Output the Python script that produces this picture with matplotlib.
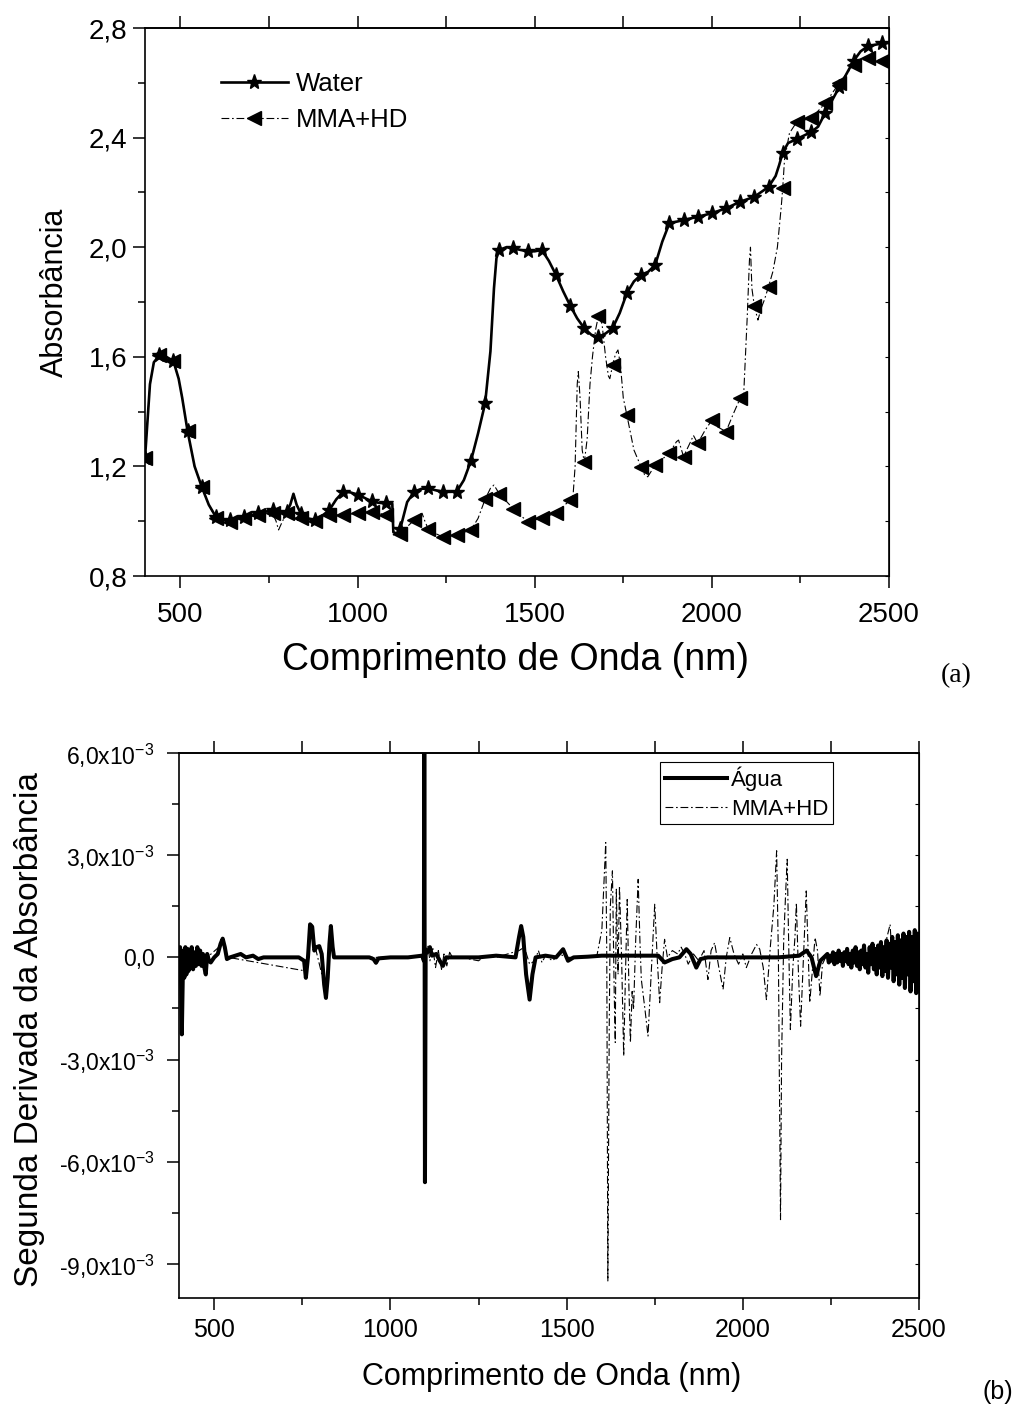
import matplotlib
matplotlib.use('Agg')
import matplotlib.pyplot as plt
import numpy as np
from matplotlib.ticker import MultipleLocator

plt.rcParams['font.family'] = ['Liberation Sans', 'DejaVu Sans']
plt.rcParams['mathtext.fontset'] = 'custom'
plt.rcParams['mathtext.rm'] = 'Liberation Sans'
plt.rcParams['mathtext.default'] = 'regular'

# ---- panel (a): absorbance spectra ----
wl_water = [400, 414, 425, 440, 460, 480, 495, 505, 520, 540, 560, 580, 600, 620, 640, 660,
            680, 700, 720, 740, 760, 780, 800, 810, 819, 828, 840, 860, 880, 900, 920, 940,
            960, 980, 1000, 1020, 1040, 1060, 1080, 1098, 1101, 1110, 1120, 1140, 1160, 1180,
            1200, 1220, 1240, 1260, 1280, 1300, 1320, 1340, 1360, 1375, 1385, 1392, 1400, 1420,
            1440, 1460, 1480, 1500, 1520, 1540, 1560, 1580, 1600, 1620, 1640, 1660, 1680, 1700,
            1720, 1740, 1760, 1780, 1800, 1820, 1840, 1860, 1880, 1920, 1960, 2000, 2040, 2080,
            2120, 2160, 2180, 2190, 2200, 2215, 2240, 2280, 2300, 2320, 2360, 2400, 2420, 2440,
            2480, 2500]
abs_water = [1.23, 1.50, 1.58, 1.605, 1.60, 1.585, 1.52, 1.45, 1.33, 1.20, 1.126, 1.06, 1.016, 1.005, 1.004, 1.01,
             1.016, 1.022, 1.029, 1.035, 1.04, 1.035, 1.035, 1.06, 1.10, 1.06, 1.027, 1.01, 1.004, 1.02, 1.04, 1.08,
             1.108, 1.105, 1.097, 1.085, 1.072, 1.067, 1.065, 1.064, 0.96, 0.955, 0.97, 1.07, 1.108, 1.118,
             1.12, 1.113, 1.108, 1.107, 1.108, 1.15, 1.22, 1.32, 1.43, 1.62, 1.85, 1.96, 1.99, 2.0,
             1.996, 1.99, 1.985, 1.985, 1.99, 1.95, 1.899, 1.84, 1.787, 1.74, 1.704, 1.68, 1.673, 1.685,
             1.705, 1.76, 1.832, 1.875, 1.899, 1.91, 1.935, 2.02, 2.087, 2.099, 2.111, 2.124, 2.142, 2.166,
             2.184, 2.22, 2.26, 2.30, 2.345, 2.38, 2.395, 2.42, 2.44, 2.49, 2.585, 2.68, 2.715, 2.733,
             2.744, 2.745]

wl_mma = [400, 414, 425, 440, 460, 480, 495, 505, 520, 540, 560, 580, 600, 620, 640, 660,
          680, 700, 720, 740, 760, 770, 777, 788, 800, 820, 840, 860, 880, 900, 920, 960,
          1000, 1040, 1080, 1098, 1101, 1120, 1140, 1160, 1172, 1182, 1190, 1200, 1220, 1240,
          1280, 1320, 1340, 1360, 1375, 1385, 1400, 1440, 1480, 1520, 1560, 1600, 1608, 1614,
          1620, 1623, 1628, 1634, 1640, 1648, 1656, 1663, 1672, 1680, 1690, 1700, 1708, 1712,
          1720, 1728, 1735, 1742, 1750, 1760, 1780, 1800, 1810, 1819, 1840, 1880, 1900, 1906,
          1920, 1940, 1948, 1960, 1980, 2000, 2015, 2040, 2060, 2080, 2090, 2100, 2106, 2109,
          2113, 2120, 2130, 2140, 2148, 2160, 2172, 2185, 2196, 2200, 2205, 2219, 2240, 2280,
          2320, 2360, 2400, 2440, 2480, 2500]
abs_mma = [1.23, 1.50, 1.58, 1.605, 1.60, 1.585, 1.52, 1.45, 1.33, 1.20, 1.126, 1.06, 1.011, 1.0, 0.998, 1.005,
           1.011, 1.018, 1.023, 1.03, 1.029, 1.0, 0.968, 1.0, 1.029, 1.02, 1.011, 1.005, 1.002, 1.012, 1.023, 1.023,
           1.029, 1.035, 1.023, 1.02, 0.95, 0.955, 0.98, 1.004, 1.02, 1.029, 1.0, 0.97, 0.955, 0.943,
           0.95, 0.968, 1.01, 1.08, 1.12, 1.132, 1.10, 1.045, 0.998, 1.011, 1.03, 1.077, 1.09, 1.2,
           1.5, 1.546, 1.45, 1.26, 1.215, 1.3, 1.5, 1.6, 1.7, 1.75, 1.72, 1.6, 1.53, 1.52,
           1.57, 1.61, 1.625, 1.57, 1.45, 1.388, 1.26, 1.199, 1.17, 1.162, 1.205, 1.248, 1.29, 1.296,
           1.236, 1.29, 1.313, 1.284, 1.33, 1.369, 1.345, 1.327, 1.39, 1.449, 1.467, 1.75, 1.95, 2.0,
           1.85, 1.785, 1.734, 1.78, 1.807, 1.856, 1.91, 2.0, 2.15, 2.215, 2.318, 2.416, 2.458, 2.47,
           2.525, 2.60, 2.665, 2.69, 2.68, 2.68]

# ---- panel (b): second derivative (units of 1e-3) ----
wl_agua_d2 = [400, 403, 406, 408, 410, 412, 415, 418, 421, 424, 427, 430, 433, 436, 440, 444,
              448, 452, 456, 460, 464, 468, 472, 476, 480, 485, 490, 500, 510, 518, 524, 530,
              536, 545, 560, 575, 590, 610, 625, 640, 700, 740, 755, 760, 766, 772, 778, 784,
              790, 798, 805, 812, 817, 822, 827, 831, 836, 840, 900, 940, 952, 959, 966, 1000,
              1050, 1090, 1095, 1096, 1098, 1100, 1105, 1112, 1118, 1130, 1140, 1149, 1158, 1250,
              1300, 1355, 1365, 1371, 1377, 1385, 1395, 1403, 1412, 1440, 1470, 1490, 1504, 1520,
              1560, 1600, 1760, 1778, 1800, 1820, 1840, 1852, 1868, 1880, 1900, 2100, 2160, 2181,
              2195, 2208, 2220, 2235,
              2240, 2244, 2248, 2252, 2256, 2260, 2264, 2268, 2272, 2276, 2280, 2284, 2288, 2292,
              2296, 2300, 2304, 2308, 2312, 2316, 2320, 2324, 2328, 2332, 2336, 2340, 2344, 2348,
              2352, 2356, 2360, 2364, 2368, 2372, 2376, 2380, 2384, 2388, 2392, 2396, 2400, 2404,
              2408, 2412, 2416, 2420, 2424, 2428, 2432, 2436, 2440, 2444, 2448, 2452, 2456, 2460,
              2464, 2468, 2472, 2476, 2480, 2484, 2488, 2492, 2496, 2500]
agua_d2 = [0.0, 0.3, -0.8, -2.26, -1.0, 0.2, -0.6, 0.3, -0.5, 0.25, -0.4, 0.2, -0.3, 0.3, -0.35, 0.15,
           -0.25, 0.3, -0.2, 0.2, -0.25, 0.1, -0.3, -0.5, 0.1, -0.1, -0.15, 0.0, 0.1, 0.4, 0.55, 0.3,
           -0.05, 0.0, 0.05, 0.1, 0.0, 0.05, -0.05, 0.0, 0.0, 0.0, -0.1, -0.6, 0.0, 0.97, 0.9, 0.2,
           0.3, 0.33, 0.1, -0.8, -1.19, -0.6, 0.4, 0.92, 0.3, 0.0, 0.0, 0.0, -0.05, -0.16, -0.03, 0.0,
           0.0, 0.05, -0.1, 8.0, -6.6, 0.2, 0.15, 0.3, 0.05, 0.1, -0.1, -0.25, 0.0, 0.0,
           0.05, 0.0, 0.6, 0.92, 0.6, -0.5, -1.24, -0.5, 0.0, 0.05, 0.0, 0.24, -0.1, 0.0,
           0.02, 0.05, 0.05, -0.15, -0.05, 0.0, 0.24, 0.1, -0.3, -0.05, 0.0, 0.0, 0.05, 0.2,
           0.0, -0.55, -0.1, 0.05,
           0.1, -0.15, 0.05, -0.1, 0.15, -0.2, 0.1, -0.15, 0.2, -0.1, 0.1, -0.25, 0.15, -0.1,
           0.25, -0.2, 0.1, -0.3, 0.2, -0.15, 0.3, -0.25, 0.15, -0.35, 0.2, -0.2, 0.35, -0.3,
           0.1, -0.45, 0.3, -0.2, 0.4, -0.35, 0.25, -0.5, 0.35, -0.3, 0.45, -0.55, 0.3, -0.4,
           0.5, -0.6, 0.4, -0.3, 0.6, -0.7, 0.45, -0.5, 0.65, -0.8, 0.5, -0.6, 0.7, -0.9,
           0.6, -0.5, 0.75, -1.0, 0.6, -0.7, 0.8, -1.05, 0.7, -1.0]

wl_mma_d2 = [400, 410, 420, 430, 440, 460, 480, 524, 540, 760, 775, 817, 831, 840, 1090, 1100,
             1106, 1112, 1120, 1128, 1136, 1145, 1152, 1160, 1168, 1176, 1200, 1250, 1270, 1300,
             1365, 1380, 1395, 1410, 1420, 1430, 1440, 1460, 1480, 1500, 1585, 1600, 1611, 1614,
             1617, 1621, 1624, 1630, 1635, 1638, 1641, 1646, 1650, 1656, 1662, 1667, 1672, 1677,
             1681, 1686, 1690, 1696, 1703, 1708, 1712, 1722, 1731, 1740, 1750, 1757, 1764, 1771,
             1778, 1786, 1800, 1815, 1825, 1835, 1845, 1860, 1875, 1890, 1901, 1910, 1920, 1932,
             1944, 1953, 1963, 1975, 1988, 2000, 2010, 2025, 2039, 2048, 2058, 2067, 2078, 2088,
             2096, 2101, 2105, 2107, 2110, 2116, 2122, 2126, 2130, 2135, 2142, 2148, 2152, 2158,
             2164, 2172, 2180, 2185, 2190, 2198, 2205, 2212, 2219, 2226, 2235, 2300, 2350, 2400,
             2418, 2425, 2450, 2480, 2500]
mma_d2 = [0.0, -0.5, 0.2, -0.3, 0.2, -0.1, 0.0, 0.4, 0.0, -0.4, 0.8, -1.0, 0.8, 0.0, 0.0, 0.2,
          0.35, -0.1, 0.3, -0.3, 0.2, -0.35, 0.1, -0.25, 0.15, 0.0, 0.0, -0.1, 0.05, 0.0,
          0.2, 0.3, -0.2, -0.1, 0.2, -0.15, 0.05, -0.1, 0.1, 0.0, 0.0, 0.8, 3.37, 0.0,
          -9.5, -2.0, 1.5, 2.54, -1.0, -2.5, 2.0, -0.5, 2.1, 0.0, -2.9, -0.5, 1.7, -1.0,
          -2.5, -1.0, -1.53, 0.5, 2.29, 0.5, -0.65, -1.5, -2.31, -0.5, 1.56, 0.0, -1.33, -0.3,
          0.53, 0.0, 0.2, 0.1, 0.3, 0.1, -0.2, 0.1, -0.1, 0.2, -0.65, 0.2, 0.43, -0.3,
          -0.94, 0.0, 0.58, 0.1, -0.2, 0.1, -0.3, 0.1, 0.38, 0.24, -0.3, -1.24, 0.3, 1.5,
          3.13, 0.0, -5.0, -7.7, -3.0, 0.5, 2.0, 2.88, 0.5, -2.12, -0.3, 0.6, 1.6, -0.5,
          -2.02, 0.0, 1.95, 0.3, -1.33, -0.3, 0.58, 0.2, -1.14, -0.2, 0.0, 0.1, -0.2, 0.2,
          0.97, -0.3, 0.3, -0.5, 0.0]

a_yticks = [0.8, 1.2, 1.6, 2.0, 2.4, 2.8]
a_yticklabels = ['0,8', '1,2', '1,6', '2,0', '2,4', '2,8']
b_yticks = [-9e-3, -6e-3, -3e-3, 0.0, 3e-3, 6e-3]
b_yticklabels = ['-9,0x10$^{-3}$', '-6,0x10$^{-3}$', '-3,0x10$^{-3}$', '0,0',
                 '3,0x10$^{-3}$', '6,0x10$^{-3}$']
x_ticks = [500, 1000, 1500, 2000, 2500]

W, H = 1018, 1409
fig = plt.figure(figsize=(W / 100, H / 100), dpi=100)


def px_axes(l, t, r, b):
    return fig.add_axes([l / W, 1 - b / H, (r - l) / W, (b - t) / H])


def style_axes(ax, tick_fs):
    for s in ax.spines.values():
        s.set_linewidth(1.2)
    ax.tick_params(axis='x', which='major', direction='out', length=8.5, width=1.1,
                   labelsize=tick_fs, top=False)
    ax.tick_params(axis='x', which='minor', direction='out', length=5, width=1.1, top=False)
    ax.tick_params(axis='y', which='major', direction='out', length=8.5, width=1.1,
                   labelsize=tick_fs, right=False)
    ax.tick_params(axis='y', which='minor', direction='out', length=5, width=1.1, right=False)
    # mirrored top ticks
    sec = ax.secondary_xaxis('top')
    sec.set_xticks(list(range(500, 2501, 250)))
    sec.tick_params(direction='out', length=8.5, width=1.1, labeltop=False)
    sec.spines['top'].set_linewidth(1.2)


# ---------------- panel (a) ----------------
ax1 = px_axes(145, 28, 889, 576)
mk_w = [i for i, w in enumerate(wl_water) if (w - 400) % 40 == 0]
mk_m = [i for i, w in enumerate(wl_mma) if (w - 400) % 40 == 0]
ax1.plot(wl_water, abs_water, color='black', lw=1.9, marker='*', markersize=11,
         markevery=mk_w, label='Water')
ax1.plot(wl_mma, abs_mma, color='black', lw=0.8, linestyle=(0, (7, 2.5, 1.5, 2.5)),
         marker='<', markersize=9.5, markevery=mk_m, label='MMA+HD')
ax1.set_xlim(400, 2500)
ax1.set_ylim(0.8, 2.8)
ax1.set_xticks(x_ticks)
ax1.xaxis.set_minor_locator(MultipleLocator(250))
ax1.set_yticks(a_yticks)
ax1.set_yticklabels(a_yticklabels)
ax1.yaxis.set_minor_locator(MultipleLocator(0.2))
style_axes(ax1, 20)
ax1.tick_params(axis='x', pad=10)
ax1.tick_params(axis='y', pad=4)
sec_r = ax1.secondary_yaxis('right')
sec_r.set_yticks(np.arange(0.8, 2.81, 0.2))
sec_r.tick_params(direction='in', length=3, labelright=False)
ax1.legend(loc='upper left', bbox_to_anchor=(221 / W, 1 - 72 / H), bbox_transform=fig.transFigure,
           frameon=False, fontsize=18.5, handlelength=2.6, handletextpad=0.3,
           borderpad=0, borderaxespad=0, labelspacing=0.45, numpoints=1)

fig.text(55 / W, 1 - 292 / H, 'Absorbância', rotation=90, ha='center', va='center', fontsize=22)
fig.text(515 / W, 1 - 660 / H, 'Comprimento de Onda (nm)', ha='center', va='center', fontsize=27)
fig.text(956 / W, 1 - 676 / H, '(a)', ha='center', va='center', fontsize=20,
         family=['Liberation Serif', 'DejaVu Serif'])

# ---------------- panel (b) ----------------
ax2 = px_axes(179, 753, 919, 1298)
ax2.plot(wl_mma_d2, np.array(mma_d2) * 1e-3, color='black', lw=0.8,
         linestyle=(0, (7, 2.5, 1.5, 2.5)), label='MMA+HD', zorder=2)
ax2.plot(wl_agua_d2, np.array(agua_d2) * 1e-3, color='black', lw=2.9, label='Água', zorder=3)
ax2.set_xlim(400, 2500)
ax2.set_ylim(-10e-3, 6e-3)
ax2.set_xticks(x_ticks)
ax2.xaxis.set_minor_locator(MultipleLocator(250))
ax2.set_yticks(b_yticks)
ax2.set_yticklabels(b_yticklabels)
ax2.yaxis.set_minor_locator(MultipleLocator(1.5e-3))
style_axes(ax2, 18)
ax2.tick_params(axis='y', labelsize=16.5, pad=9)
ax2.tick_params(axis='x', pad=6)
sec_r2 = ax2.secondary_yaxis('right')
sec_r2.set_yticks(np.arange(-9e-3, 6.01e-3, 1.5e-3))
sec_r2.tick_params(direction='in', length=3, labelright=False)
h, l = ax2.get_legend_handles_labels()
leg = ax2.legend(h[::-1], l[::-1], loc='upper right', bbox_to_anchor=(833 / W, 1 - 762 / H),
                 bbox_transform=fig.transFigure, fontsize=16, handlelength=2.8,
                 handletextpad=0.2, borderpad=0.2, borderaxespad=0, labelspacing=0.35,
                 fancybox=False, framealpha=1)
leg.get_frame().set_edgecolor('black')
leg.get_frame().set_linewidth(0.8)

fig.text(30 / W, 1 - 1030 / H, 'Segunda Derivada da Absorbância', rotation=90,
         ha='center', va='center', fontsize=24)
fig.text(552 / W, 1 - 1377 / H, 'Comprimento de Onda (nm)', ha='center', va='center', fontsize=22)
fig.text(998 / W, 1 - 1392 / H, '(b)', ha='center', va='center', fontsize=18)

fig.savefig('out.png', dpi=100)
